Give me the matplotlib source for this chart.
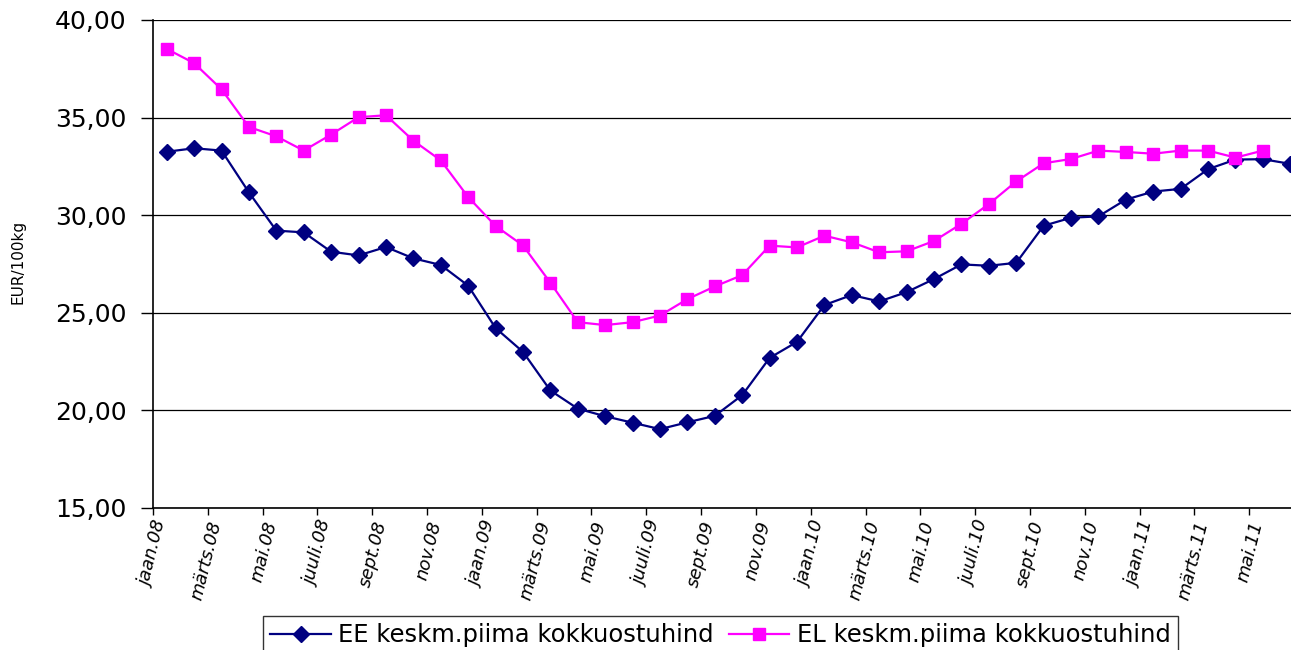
import matplotlib
matplotlib.use("Agg")
import matplotlib.pyplot as plt
from matplotlib.ticker import FuncFormatter

months = ["jaan", "veebr", "märts", "apr", "mai", "juuni", "juuli", "aug", "sept", "okt", "nov", "dets"]
years = ["08", "09", "10", "11"]
categories = [f"{m}.{y}" for y in years for m in months][:42]

ee_values = [33.25, 33.43, 33.31, 31.17, 29.21, 29.12, 28.13, 27.94, 28.37, 27.79, 27.45, 26.39,
             24.22, 23.00, 21.02, 20.09, 19.70, 19.37, 19.04, 19.39, 19.72, 20.78, 22.69, 23.51,
             25.40, 25.91, 25.58, 26.06, 26.73, 27.48, 27.41, 27.56, 29.46, 29.87, 29.94, 30.80,
             31.21, 31.35, 32.36, 32.85, 32.87, 32.63]
el_values = [38.52, 37.79, 36.45, 34.52, 34.04, 33.31, 34.13, 35.02, 35.12, 33.82, 32.81, 30.93,
             29.45, 28.45, 26.54, 24.52, 24.37, 24.52, 24.86, 25.70, 26.35, 26.93, 28.44, 28.35,
             28.95, 28.61, 28.10, 28.15, 28.68, 29.56, 30.57, 31.73, 32.66, 32.88, 33.31, 33.24,
             33.15, 33.31, 33.31, 32.95, 33.31]
ee_label = "EE keskm.piima kokkuostuhind"
el_label = "EL keskm.piima kokkuostuhind"
y_label = "EUR/100kg"
y_ticks = [15, 20, 25, 30, 35, 40]

W, H = 1291, 650
fig = plt.figure(figsize=(W / 100, H / 100), dpi=100)
left, right, top, bottom = 153, 1304, 20, 508
ax = fig.add_axes([left / W, (H - bottom) / H, (right - left) / W, (bottom - top) / H])

x_ee = list(range(len(ee_values)))
x_el = list(range(len(el_values)))
l1, = ax.plot(x_ee, ee_values, color="#000080", lw=1.6, marker="D", ms=8.5,
              markeredgecolor="#000080", markerfacecolor="#000080", label=ee_label, zorder=3)
l2, = ax.plot(x_el, el_values, color="#FF00FF", lw=1.6, marker="s", ms=9,
              markeredgecolor="#FF00FF", markerfacecolor="#FF00FF", label=el_label, zorder=3)

ax.set_xlim(-0.5, len(categories) - 0.5)
ax.set_ylim(15, 40)
ax.set_yticks(y_ticks)
ax.yaxis.set_major_formatter(FuncFormatter(lambda v, p: f"{v:.2f}".replace(".", ",")))
ax.tick_params(axis="y", labelsize=18, length=9, width=1, direction="out", pad=10)
ax.grid(axis="y", color="black", lw=0.9)
ax.set_axisbelow(True)

tick_pos = [i - 0.5 for i in range(0, len(categories), 2)]
tick_lab = [categories[i] for i in range(0, len(categories), 2)]
ax.set_xticks(tick_pos)
ax.set_xticklabels(tick_lab, rotation=76, ha="right", va="top", rotation_mode="anchor",
                   fontsize=13, style="italic")
ax.tick_params(axis="x", length=5, width=1, direction="out", pad=3)

for s in ["top", "right"]:
    ax.spines[s].set_visible(False)
ax.spines["left"].set_linewidth(1.2)
ax.spines["bottom"].set_linewidth(1.2)

fig.text(18 / W, 1 - 262 / H, y_label, rotation=90, ha="center", va="center", fontsize=11)

leg = fig.legend(handles=[l1, l2], loc="upper left", bbox_to_anchor=(263 / W, 34 / H),
                 ncol=2, fontsize=17.5, frameon=True, fancybox=False, edgecolor="black",
                 handlelength=2.5, borderpad=0.3, borderaxespad=0, columnspacing=0.6,
                 handletextpad=0.3)
leg.get_frame().set_linewidth(1.0)
for h in leg.legend_handles:
    h.set_markersize(8)

fig.savefig("out.png", dpi=100)
